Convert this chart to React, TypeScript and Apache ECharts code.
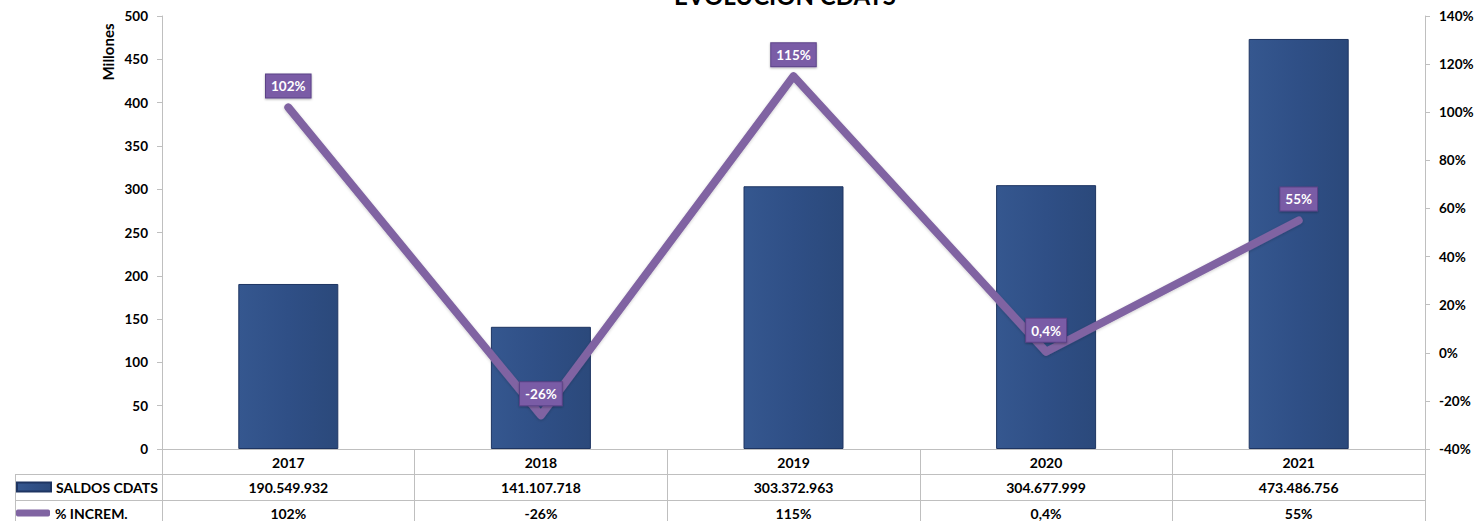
import React, { useEffect, useRef } from "react";
import * as echarts from "echarts";

const title = "EVOLUCION CDATS";
const years = ["2017", "2018", "2019", "2020", "2021"];
const saldos = [190549932, 141107718, 303372963, 304677999, 473486756];
const incremento = [102, -26, 115, 0.4, 55];
const seriesNames = ["SALDOS CDATS", "% INCREM."];
const leftAxisName = "Millones";

const FONT = "Lato";

function fmtMiles(n: number): string {
  return String(n).replace(/\B(?=(\d{3})+(?!\d))/g, ".");
}
function fmtPct(v: number): string {
  return String(v).replace(".", ",") + "%";
}

export default function App() {
  const ref = useRef<HTMLDivElement>(null);
  useEffect(() => {
    if (!ref.current) return;
    const chart = echarts.init(ref.current, null, { renderer: "svg" });
    const gridLeft = 162;
    const gridRight = 1425;
    const tableLine = "#BFBFBF";
    const legendText = { fontFamily: FONT, fontWeight: "bold", fontSize: 14, color: "#000", lineHeight: 16 };
    chart.setOption({
      animation: false,
      textStyle: { fontFamily: FONT },
      grid: {
        left: gridLeft,
        right: 1477 - gridRight,
        top: 16,
        bottom: 72,
        containLabel: false,
        outerBoundsMode: "none",
      },
      legend: [
        {
          left: 16,
          top: 479,
          padding: 0,
          itemWidth: 34,
          itemHeight: 9,
          selectedMode: false,
          textStyle: legendText,
          data: [{ name: seriesNames[0], icon: "rect" }],
        },
        {
          left: 16,
          top: 505,
          padding: 0,
          itemWidth: 34,
          itemHeight: 7,
          selectedMode: false,
          textStyle: legendText,
          data: [{ name: seriesNames[1], icon: "roundRect" }],
        },
      ],
      graphic: [
        {
          type: "text",
          x: 785,
          y: -5,
          style: {
            text: title,
            font: `bold 24px ${FONT}`,
            fill: "#000",
            textAlign: "center",
            textVerticalAlign: "middle",
          },
        },
        {
          type: "text",
          x: 107.5,
          y: 52,
          rotation: Math.PI / 2,
          style: {
            text: leftAxisName,
            font: `bold 15px ${FONT}`,
            fill: "#000",
            textAlign: "center",
            textVerticalAlign: "middle",
          },
        },
        { type: "line", shape: { x1: 15, y1: 474.5, x2: gridRight, y2: 474.5 }, style: { stroke: tableLine, lineWidth: 1 } },
        { type: "line", shape: { x1: 15, y1: 500.5, x2: gridRight, y2: 500.5 }, style: { stroke: tableLine, lineWidth: 1 } },
        { type: "line", shape: { x1: 15.5, y1: 474.5, x2: 15.5, y2: 521 }, style: { stroke: tableLine, lineWidth: 1 } },
      ],
      xAxis: {
        type: "category",
        data: years,
        axisLine: { lineStyle: { color: tableLine, width: 1 } },
        axisTick: { show: true, length: 72, lineStyle: { color: tableLine } },
        axisLabel: {
          margin: 0.5,
          color: "#000",
          fontFamily: FONT,
          fontWeight: "bold",
          fontSize: 14,
          lineHeight: 25.5,
          formatter: (val: string, idx: number) =>
            `${val}\n${fmtMiles(saldos[idx])}\n${fmtPct(incremento[idx])}`,
        },
      },
      yAxis: [
        {
          type: "value",
          min: 0,
          max: 500,
          interval: 50,
          splitLine: { show: false },
          axisLine: { show: true, lineStyle: { color: tableLine } },
          axisTick: { show: true, length: 5, lineStyle: { color: tableLine } },
          axisLabel: { margin: 14, color: "#000", fontFamily: FONT, fontWeight: "bold", fontSize: 13.5 },
        },
        {
          type: "value",
          position: "right",
          min: -40,
          max: 140,
          interval: 20,
          splitLine: { show: false },
          axisLine: { show: true, lineStyle: { color: tableLine } },
          axisTick: { show: true, length: 5, lineStyle: { color: tableLine } },
          axisLabel: {
            margin: 14,
            color: "#000",
            fontFamily: FONT,
            fontWeight: "bold",
            fontSize: 13.5,
            formatter: "{value}%",
          },
        },
      ],
      series: [
        {
          name: seriesNames[0],
          type: "bar",
          yAxisIndex: 0,
          barWidth: 100,
          data: saldos.map((v) => v / 1e6),
          itemStyle: {
            color: new echarts.graphic.LinearGradient(0, 0, 1, 0, [
              { offset: 0, color: "#35578F" },
              { offset: 0.5, color: "#2F4F86" },
              { offset: 1, color: "#2B497B" },
            ]),
            borderColor: "#1E3562",
            borderWidth: 1,
          },
          z: 2,
        },
        {
          name: seriesNames[1],
          type: "line",
          yAxisIndex: 1,
          data: incremento,
          symbol: "circle",
          symbolSize: 2,
          itemStyle: { color: "#8064A2" },
          lineStyle: {
            color: "#8064A2",
            width: 8,
            cap: "round",
            join: "round",
            shadowColor: "rgba(0,0,0,0.2)",
            shadowBlur: 3,
            shadowOffsetY: 1,
          },
          label: {
            show: true,
            position: "top",
            distance: 9,
            formatter: (p: any) => fmtPct(p.value),
            color: "#fff",
            fontFamily: FONT,
            fontWeight: "bold",
            fontSize: 13.5,
            lineHeight: 14,
            backgroundColor: "#7A5CA6",
            borderColor: "#5B4287",
            borderWidth: 1,
            padding: [5, 5, 4, 5],
            shadowColor: "rgba(0,0,0,0.3)",
            shadowBlur: 2,
            shadowOffsetY: 1,
          },
          z: 3,
        },
      ],
    });
    return () => chart.dispose();
  }, []);
  return (
    <div
      ref={ref}
      style={{ position: "fixed", left: 0, top: 0, width: 1477, height: 521, background: "#fff" }}
    />
  );
}
